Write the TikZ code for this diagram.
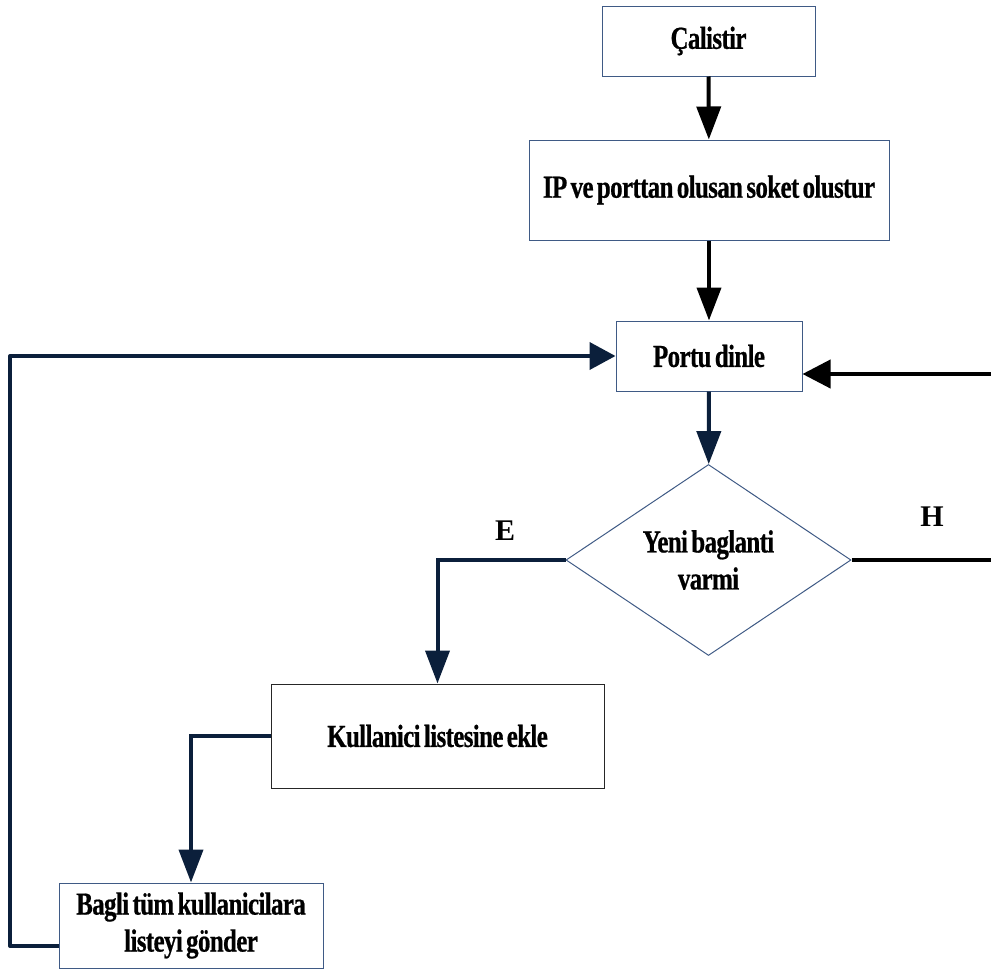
\documentclass[tikz,border=0pt]{standalone}
\usepackage{fontspec}
\setmainfont{Liberation Serif}[FakeStretch=0.78, LetterSpace=-2, WordSpace=0.6, BoldFeatures={FakeBold=0.6}]
\newfontfamily\lblfont{Liberation Serif}
\usetikzlibrary{arrows.meta,shapes.geometric}
\definecolor{boxline}{HTML}{3F5A85}
\definecolor{navy}{HTML}{0B1F3B}
\begin{document}
\begin{tikzpicture}[x=1pt,y=-1pt,
  every node/.style={font=\fontsize{32}{37}\selectfont\bfseries, align=center, inner sep=0pt},
  stepbox/.style={draw=boxline, line width=1pt, rectangle},
  decision/.style={draw=boxline, line width=1pt, diamond},
  flowblack/.style={draw=black, line width=4pt, -{Triangle[length=33pt,width=24pt]}},
  flownavy/.style={draw=navy, line width=4pt, -{Triangle[length=33pt,width=24pt]}},
  branch/.style={font=\lblfont\fontsize{30}{36}\selectfont\bfseries}]
\useasboundingbox (0,0) rectangle (991,969);

% process steps
\node[stepbox, minimum width=213pt, minimum height=70pt] (calistir) at (708.5,41) {Çalistir};
\node[stepbox, minimum width=360pt, minimum height=100pt] (soket) at (709,190) {IP ve porttan olusan soket olustur};
\node[stepbox, minimum width=186pt, minimum height=70pt] (portu) at (709,356) {Portu dinle};
\node[decision, minimum width=285pt, minimum height=180pt] (karar) at (708.5,560) {Yeni baglanti\\varmi};
\node[stepbox, draw=black!85, minimum width=333pt, minimum height=104pt] (ekle) at (437.5,736) {Kullanici listesine ekle};
\node[stepbox, minimum width=264pt, minimum height=85pt] (gonder) at (191,925.5) {Bagli tüm kullanicilara\\listeyi gönder};

% branch labels
\node[branch] (evet) at (505,531) {E};
\node[branch] (hayir) at (932,517) {H};

% free ends at the page border
\coordinate (hayirout) at (991,560);
\coordinate (geridon) at (991,374);
\coordinate (solkose) at (10,946);

% connectors
\draw[flowblack] (calistir) -- (soket);
\draw[flowblack] (soket) -- (portu);
\draw[flownavy] (portu) -- (karar);
\draw[flownavy] (karar.west) -| (ekle.north);
\draw[draw=black, line width=4pt] (karar.east) -- (hayirout);
\draw[draw=black, line width=4pt, -{Triangle[length=28pt,width=28pt]}] (geridon) -- (geridon -| portu.east);
\draw[flownavy] (ekle.west) -| (gonder.north);
\draw[draw=navy, line width=4pt, line join=round, -{Triangle[length=26pt,width=27pt]}]
  (solkose -| gonder.west) -- (solkose) -- (solkose |- portu.west) -- (portu.west);
\end{tikzpicture}
\end{document}
